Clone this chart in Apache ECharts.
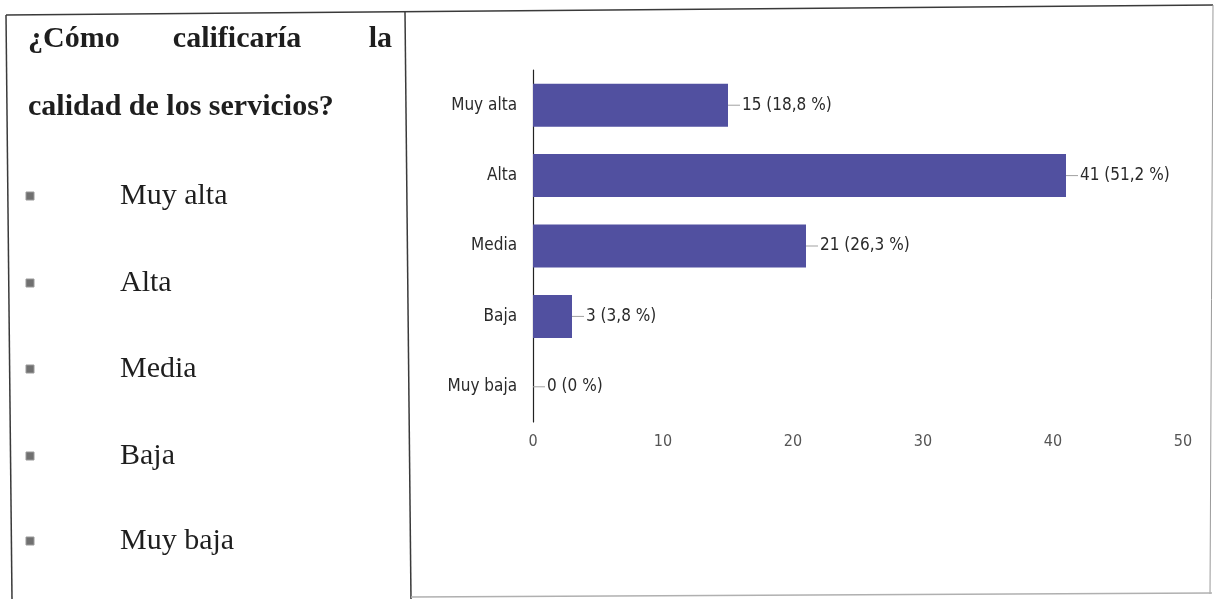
<!DOCTYPE html>
<html>
<head>
<meta charset="utf-8">
<title>¿Cómo calificaría la calidad de los servicios?</title>
<script src="https://cdn.jsdelivr.net/npm/echarts@6/dist/echarts.min.js"></script>
<style>
  html, body { margin: 0; padding: 0; background: #ffffff; }
  #chart { width: 1217px; height: 599px; }
</style>
</head>
<body>
<div id="chart"></div>
<script>
// Survey answers: rating of service quality
const categories = ['Muy alta', 'Alta', 'Media', 'Baja', 'Muy baja'];
const counts = [15, 41, 21, 3, 0];
const percents = ['18,8', '51,2', '26,3', '3,8', '0'];
const axisTicks = [0, 10, 20, 30, 40, 50];

const questionWords = ['¿Cómo', 'calificaría', 'la'];
const questionLine2 = 'calidad de los servicios?';

const NARROW = '"Liberation Sans Narrow", "Arial Narrow", "DejaVu Sans Condensed", sans-serif';
const SERIF = '"Liberation Serif", "Times New Roman", serif';

const chart = echarts.init(document.getElementById('chart'), null, { renderer: 'canvas' });

// left column: question and answer options, plus the table rules
const graphics = [];
const rule = { stroke: '#3a3a3a', lineWidth: 1.5 };
graphics.push({ type: 'line', shape: { x1: 6, y1: 15, x2: 1213, y2: 5 }, style: rule, silent: true });
graphics.push({ type: 'line', shape: { x1: 6, y1: 15, x2: 12, y2: 599 }, style: rule, silent: true });
graphics.push({ type: 'line', shape: { x1: 405, y1: 12, x2: 411, y2: 599 }, style: rule, silent: true });
graphics.push({ type: 'line', shape: { x1: 1213, y1: 5, x2: 1210, y2: 594 }, style: { stroke: '#9a9a9a', lineWidth: 1 }, silent: true });
graphics.push({ type: 'line', shape: { x1: 411, y1: 597, x2: 1212, y2: 593 }, style: { stroke: '#b0b0b0', lineWidth: 1.5 }, silent: true });

const boldFont = 'bold 30px ' + SERIF;
graphics.push({ type: 'text', x: 28, y: 39, style: { text: questionWords[0], font: boldFont, fill: '#1e1e1e', align: 'left', verticalAlign: 'middle' } });
graphics.push({ type: 'text', x: 237, y: 39, style: { text: questionWords[1], font: boldFont, fill: '#1e1e1e', align: 'center', verticalAlign: 'middle' } });
graphics.push({ type: 'text', x: 392, y: 39, style: { text: questionWords[2], font: boldFont, fill: '#1e1e1e', align: 'right', verticalAlign: 'middle' } });
graphics.push({ type: 'text', x: 28, y: 107, style: { text: questionLine2, font: boldFont, fill: '#1e1e1e', align: 'left', verticalAlign: 'middle' } });

const listY = [196, 283, 369, 456, 541];
categories.forEach(function (name, i) {
  graphics.push({ type: 'rect', shape: { x: 26, y: listY[i] - 4, width: 8, height: 8 }, style: { fill: '#707070', stroke: '#9a9a9a', lineWidth: 1 }, silent: true });
  graphics.push({ type: 'text', x: 120, y: listY[i], style: { text: name, font: '30px ' + SERIF, fill: '#1e1e1e', align: 'left', verticalAlign: 'middle' } });
});

const option = {
  backgroundColor: '#ffffff',
  animation: false,
  grid: { left: 533, right: 34, top: 70, bottom: 177 },
  xAxis: {
    type: 'value',
    min: axisTicks[0],
    max: axisTicks[axisTicks.length - 1],
    interval: axisTicks[1] - axisTicks[0],
    axisLine: { show: false },
    axisTick: { show: false },
    splitLine: { show: false },
    axisLabel: { color: '#555', fontSize: 16, fontFamily: NARROW, margin: 12 }
  },
  yAxis: {
    type: 'category',
    inverse: true,
    data: categories,
    axisLine: { show: true, lineStyle: { color: '#222', width: 1.2 } },
    axisTick: { show: false },
    axisLabel: { color: '#2a2a2a', fontSize: 17, fontFamily: NARROW, margin: 16 }
  },
  series: [{
    type: 'bar',
    data: counts,
    barWidth: 43,
    itemStyle: { color: '#5150a0' },
    label: {
      show: true,
      position: 'right',
      distance: 0,
      formatter: function (p) {
        return '{ln|}{t|' + counts[p.dataIndex] + ' (' + percents[p.dataIndex] + ' %)}';
      },
      rich: {
        ln: { width: 12, height: 1, backgroundColor: '#a0a0a0' },
        t: { color: '#2a2a2a', fontSize: 17, fontFamily: NARROW, padding: [0, 0, 0, 2] }
      }
    }
  }],
  graphic: graphics
};

chart.setOption(option);
</script>
</body>
</html>
